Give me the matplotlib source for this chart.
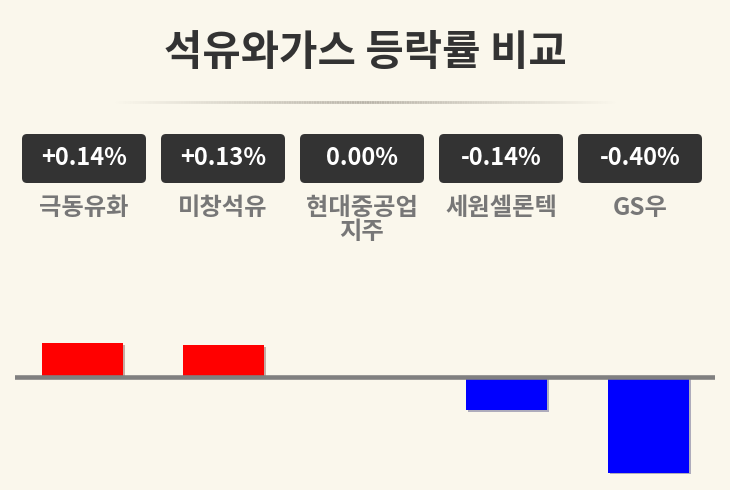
import matplotlib
matplotlib.use("Agg")
import matplotlib.pyplot as plt
import matplotlib.patheffects as pe
from matplotlib.patches import FancyBboxPatch
from matplotlib.collections import LineCollection
import numpy as np

plt.rcParams['font.family'] = ['Noto Sans CJK KR', 'DejaVu Sans']

title = "석유와가스 등락률 비교"
names = ["극동유화", "미창석유", "현대중공업\n지주", "세원셀론텍", "GS우"]
changes = [0.14, 0.13, 0.00, -0.14, -0.40]
labels = ["+0.14%", "+0.13%", "0.00%", "-0.14%", "-0.40%"]

bg = "#faf7ec"
W, H = 730, 490
fig = plt.figure(figsize=(W / 100, H / 100), dpi=100, facecolor=bg)

# overlay in pixel coordinates for the header part
ov = fig.add_axes([0, 0, 1, 1])
ov.set_xlim(0, W)
ov.set_ylim(H, 0)
ov.axis("off")
ov.patch.set_alpha(0)

ov.text(365, 53, title, ha="center", va="center", fontsize=30,
        fontweight="bold", color="#333333")

# faded separator line
xs = np.linspace(115, 615, 200)
segs = [[(xs[i], 102), (xs[i + 1], 102)] for i in range(len(xs) - 1)]
mid = (xs[:-1] + xs[1:]) / 2
alpha = 1 - np.abs(mid - 365) / 250
cols = [(0.72, 0.70, 0.66, a) for a in alpha]
ov.add_collection(LineCollection(segs, colors=cols, linewidths=2))

# value boxes + names
for i, (lab, nm) in enumerate(zip(labels, names)):
    cx = 84 + 139 * i
    box = FancyBboxPatch((cx - 62 + 5, 134 + 5), 124 - 10, 49 - 10,
                         boxstyle="round,pad=5", fc="#333333", ec="none")
    ov.add_patch(box)
    ov.text(cx, 158, lab, ha="center", va="center", fontsize=17,
            color="white", fontweight="bold")
    y = 208 if "\n" not in nm else 220
    ov.text(cx, y, nm, ha="center", va="center", fontsize=17.5,
            color="#777777", fontweight="bold", linespacing=0.95)

# bar chart
ax = fig.add_axes([15 / W, 10 / H, 700 / W, 150 / H])
ax.set_facecolor("none")
pos = np.arange(len(changes))
colors = ["red" if v > 0 else "blue" for v in changes]
bars = ax.bar(pos, changes, width=81 / 141.5, color=colors, zorder=2)
for b in bars:
    b.set_path_effects([pe.SimplePatchShadow(offset=(1.2, -1.2), alpha=0.3),
                        pe.Normal()])
ax.axhline(0, color="#808080", lw=3.3, zorder=3)
ax.set_xlim((15 - 82.4) / 141.5, (715 - 82.4) / 141.5)
ax.set_ylim(-(480 - 376.7) / 240, (376.7 - 330) / 240)
ax.axis("off")

fig.savefig("out.png", dpi=100, facecolor=bg)
